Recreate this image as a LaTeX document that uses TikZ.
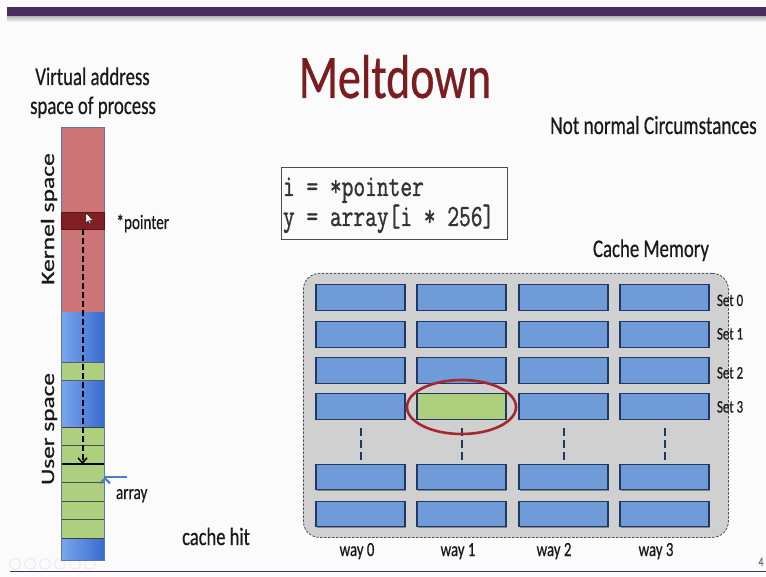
\documentclass[tikz,border=0pt]{standalone}
\usepackage{fontspec}
\usepackage{graphicx}
\setmainfont{Carlito}[FakeBold=0.6]
\newfontfamily\codefont{Latin Modern Mono}[FakeBold=1.2]
\usetikzlibrary{arrows.meta,shapes.geometric,shadows}

\definecolor{pagebg}{RGB}{251,251,251}
\definecolor{barpurple}{RGB}{72,44,93}
\definecolor{titlered}{RGB}{123,28,33}
\definecolor{kernelpink}{RGB}{205,116,120}
\definecolor{ptrred}{RGB}{128,30,36}
\definecolor{userlight}{RGB}{122,166,238}
\definecolor{userdark}{RGB}{58,108,208}
\definecolor{arraygreen}{RGB}{173,207,126}
\definecolor{blockblue}{RGB}{111,155,216}
\definecolor{blockedge}{RGB}{31,56,100}
\definecolor{cachegray}{RGB}{208,208,208}
\definecolor{cacheedge}{RGB}{70,80,100}
\definecolor{hitred}{RGB}{165,40,46}
\definecolor{arrowblue}{RGB}{79,123,192}
\definecolor{baredge}{RGB}{95,120,170}
\definecolor{textgray}{RGB}{25,25,25}

% horizontally condensed slide text, and its rotated counterpart
\newcommand{\slidetext}[2]{\scalebox{0.74}[1]{\fontsize{#1}{#1}\selectfont #2}}
\newcommand{\sidetext}[2]{\scalebox{1}[0.74]{\fontsize{#1}{#1}\selectfont #2}}
\newcommand{\codetext}[1]{\scalebox{0.74}[1]{\fontsize{30.8}{30.8}\codefont #1}}

\begin{document}
\begin{tikzpicture}[x=1pt,y=-1pt,
  txt/.style={inner sep=0pt,outer sep=0pt,anchor=base,text=textgray},
  txtw/.style={txt,anchor=base west},
  block/.style={draw=blockedge,line width=1.4pt,minimum width=89pt,
    minimum height=25.5pt,inner sep=0pt,
    drop shadow={shadow xshift=0.8pt,shadow yshift=-1.2pt,opacity=0.35,fill=black}},
  region/.style={inner sep=0pt,outer sep=0pt,minimum width=43pt,anchor=north west},
  rowline/.style={draw=black!70,line width=0.7pt},
  waydash/.style={draw=blockedge,line width=2pt,dash pattern=on 8pt off 4pt},
  navicon/.style={draw=black!10,line width=0.6pt,circle,minimum size=11pt,inner sep=0pt}
]
\useasboundingbox (0,0) rectangle (766,577);
\fill[pagebg] (0,0) rectangle (766,577);

% slide frame: top band with soft shadow, bottom rule
\shade[top color=black!30,bottom color=pagebg] (7,16) rectangle (766,22);
\fill[barpurple] (7,7) rectangle (766,16.5);
\draw[barpurple,line width=1.5pt] (10,571.5) -- (766,571.5);
\node[txt,text=black!55] (pageno) at (761,566) {\slidetext{13}{4}};
\foreach \i in {0,...,5}
  \node[navicon] (nav-\i) at (15+15*\i,564) {};

% title and headings
\node[txt,text=titlered] (title) at (395,98) {\slidetext{62}{Meltdown}};
\node[txt] (situation) at (653.5,134) {\slidetext{26}{Not normal Circumstances}};
\node[txt] (vas1) at (92.5,85) {\slidetext{25.4}{Virtual address}};
\node[txt] (vas2) at (93,114) {\slidetext{25.4}{space of process}};

% virtual address space column
\node[region,fill=kernelpink,minimum height=186pt] (kernel) at (61,127) {};
\shade[left color=userlight,right color=userdark] (61,313) rectangle (104,560);
\node[region,fill=arraygreen,minimum height=18pt] (varband) at (61,362) {};
\draw[blockedge!80,line width=0.7pt] (varband.north west) -- (varband.north east)
  (varband.south west) -- (varband.south east);
\node[region,fill=arraygreen,minimum height=111pt,draw=black!75,line width=0.7pt] (arr) at (61,427) {};
\foreach \yy in {445.5,482.5,501,519.5}
  \draw[rowline] (61,\yy) -- (104,\yy);
\draw[black,line width=1.4pt] (61,464) -- (104,464);
\coordinate (arrstart) at (82.5,464);
\draw[baredge,line width=0.6pt] (61,127) rectangle (104,560);
\node[region,fill=ptrred,minimum height=17pt,draw=ptrred!70!black,line width=0.6pt] (ptr) at (61,212) {};
% mouse cursor
\filldraw[fill=white,draw=black,line width=0.3pt]
  (86,213) -- (86,223) -- (88.3,220.8) -- (89.8,224) -- (91,223.4) -- (89.6,220.3) -- (92.8,220.3) -- cycle;

\draw[black,line width=2pt,dash pattern=on 6pt off 3pt,
  -{Straight Barb[length=5pt,width=9pt,line width=1.5pt]}]
  (ptr.south) -- (arrstart);

\node[txt,rotate=90] (kernlabel) at (54,219) {\sidetext{25.6}{Kernel space}};
\node[txt,rotate=90] (userlabel) at (54,429) {\sidetext{25.3}{User space}};
\node[txtw] (ptrlabel) at (116.5,229) {\slidetext{20.5}{*pointer}};
\coordinate (arrowtail) at (127,477);
\draw[arrowblue,line width=2.2pt,-{Straight Barb[length=5pt,width=10pt,line width=2pt]}]
  (arrowtail) -- (arrowtail -| arr.east) ++(1,0);
\node[txtw] (arrlabel) at (116,499) {\slidetext{20.5}{array}};
\node[txt] (hitlabel) at (216,545) {\slidetext{25}{cache hit}};

% code fragment
\node[draw=black!70,line width=0.8pt,fill=pagebg,minimum width=226pt,minimum height=72pt,
  anchor=north west,inner sep=0pt] (code) at (281,167) {};
\node[txtw,text=black!80] (code1) at (283,196) {\codetext{i = *pointer}};
\node[txtw,text=black!80] (code2) at (283,226) {\codetext{y = array[i * 256]}};

% cache memory: 4 ways, sets 0..3 plus trailing sets
\node[txt] (cachelabel) at (651,257) {\slidetext{25.4}{Cache Memory}};
\node[draw=cacheedge,fill=cachegray,line width=0.8pt,dash pattern=on 2.5pt off 1.5pt,
  rounded corners=16pt,minimum width=425pt,minimum height=264pt,anchor=north west,
  inner sep=0pt] (cache) at (303,273) {};
\foreach \r/\yy in {0/297.5,1/334.5,2/370.5,3/406.5,4/477,5/514}
  \foreach \c/\xx in {0/360.5,1/461.5,2/563.5,3/664.5} {
    \ifnum\r\c=31 \def\blkfill{arraygreen}\else\def\blkfill{blockblue}\fi
    \node[block,fill=\blkfill] (blk-\r-\c) at (\xx,\yy) {};
  }
\foreach \c in {0,1,2,3}
  \draw[waydash] ([yshift=-8.5pt]blk-3-\c.south) -- ([yshift=2pt]blk-4-\c.north);
\node[draw=hitred,line width=2.6pt,ellipse,minimum width=109pt,minimum height=54pt,
  inner sep=0pt] (hit) at (461.5,407) {};

\node[txtw] (set0) at (717,306) {\slidetext{17.5}{Set 0}};
\node[txtw] (set1) at (717,339.5) {\slidetext{17.5}{Set 1}};
\node[txtw] (set2) at (717,378.5) {\slidetext{17.5}{Set 2}};
\node[txtw] (set3) at (717,412.5) {\slidetext{17.5}{Set 3}};

\node[txt] (way0) at (357,556) {\slidetext{20}{way 0}};
\node[txt] (way1) at (458,556) {\slidetext{20}{way 1}};
\node[txt] (way2) at (554,556) {\slidetext{20}{way 2}};
\node[txt] (way3) at (656,556) {\slidetext{20}{way 3}};
\end{tikzpicture}
\end{document}
